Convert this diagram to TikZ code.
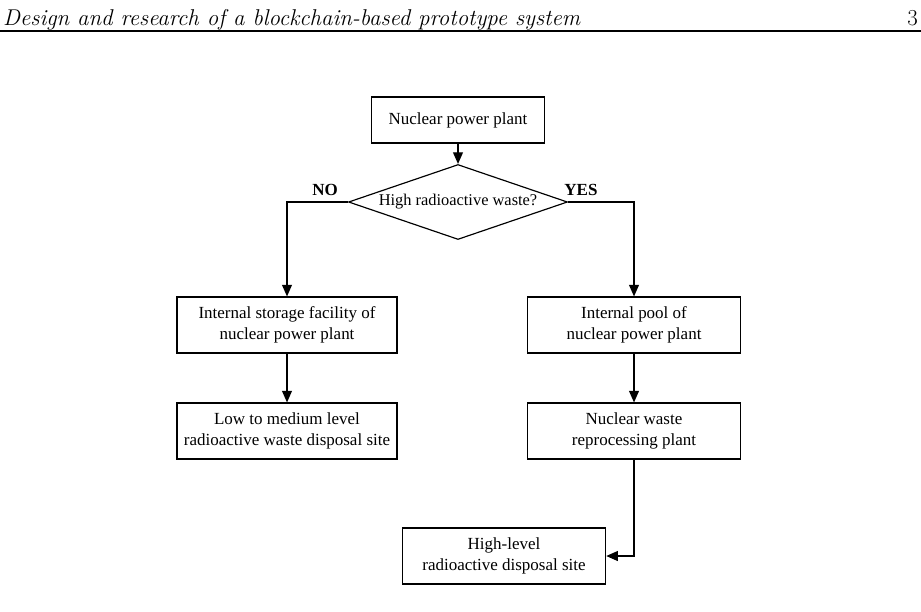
\documentclass[tikz,border=0pt]{standalone}
\usepackage{fontspec}
\newfontfamily\timesfont{Liberation Serif}
\usetikzlibrary{shapes.geometric, arrows.meta}
\tikzset{box/.style = {
  rectangle, draw, line width=1pt, inner xsep=2pt,
  minimum width=6.6cm, minimum height=1.68cm,
  align=center, font=\timesfont\fontsize{14.5}{18}\selectfont
  }}
\tikzset{decision/.style = {
  diamond, draw, line width=1pt, aspect=2.9, inner sep=0pt,
  minimum width=6.57cm, minimum height=2.25cm,
  font=\timesfont\fontsize{14}{17}\selectfont
  }}
\tikzset{arrow/.style = {
  -{Triangle[length=3.5mm, width=3mm]},
  line width=1pt
  }}
\tikzset{answer/.style = {
  font=\timesfont\bfseries\fontsize{14.5}{18}\selectfont
  }}
\begin{document}
\begin{tikzpicture}[x=0.03cm, y=-0.03cm]
\useasboundingbox (0,0) rectangle (921,611);

% HEADER
\node (kop) [anchor=base west, font=\itshape\fontsize{19.5}{23}\selectfont, inner sep=0pt] at (3,25) {Design and research of a blockchain-based prototype system};
\node (stran) [anchor=base east, font=\fontsize{19.5}{23}\selectfont, inner sep=0pt] at (918,25) {3};
\draw[line width=0.9pt] (0,31) -- (921,31);

% NODES
\node (plant) [box, minimum width=5.2cm, minimum height=1.38cm] at (458,120) {Nuclear power plant};
\node (waste) [decision] at (458,202) {High radioactive waste?};
\node (storage) [box] at (287,325) {Internal storage facility of\\nuclear power plant};
\node (pool) [box, minimum width=6.4cm] at (634,325) {Internal pool of\\nuclear power plant};
\node (low) [box] at (287,431) {Low to medium level\\radioactive waste disposal site};
\node (repro) [box, minimum width=6.4cm] at (634,431) {Nuclear waste\\reprocessing plant};
\node (high) [box, minimum width=6.1cm] at (504,556) {High-level\\radioactive disposal site};

\node (no) [answer] at (325,190) {NO};
\node (yes) [answer] at (581,190) {YES};

% arrows
\draw [arrow] (plant) -- (waste);
\draw [arrow] (waste.west) -| (storage.north);
\draw [arrow] (waste.east) -| (pool.north);
\draw [arrow] (storage) -- (low);
\draw [arrow] (pool) -- (repro);
\draw [arrow] (repro.south) |- (high.east);
\end{tikzpicture}
\end{document}
